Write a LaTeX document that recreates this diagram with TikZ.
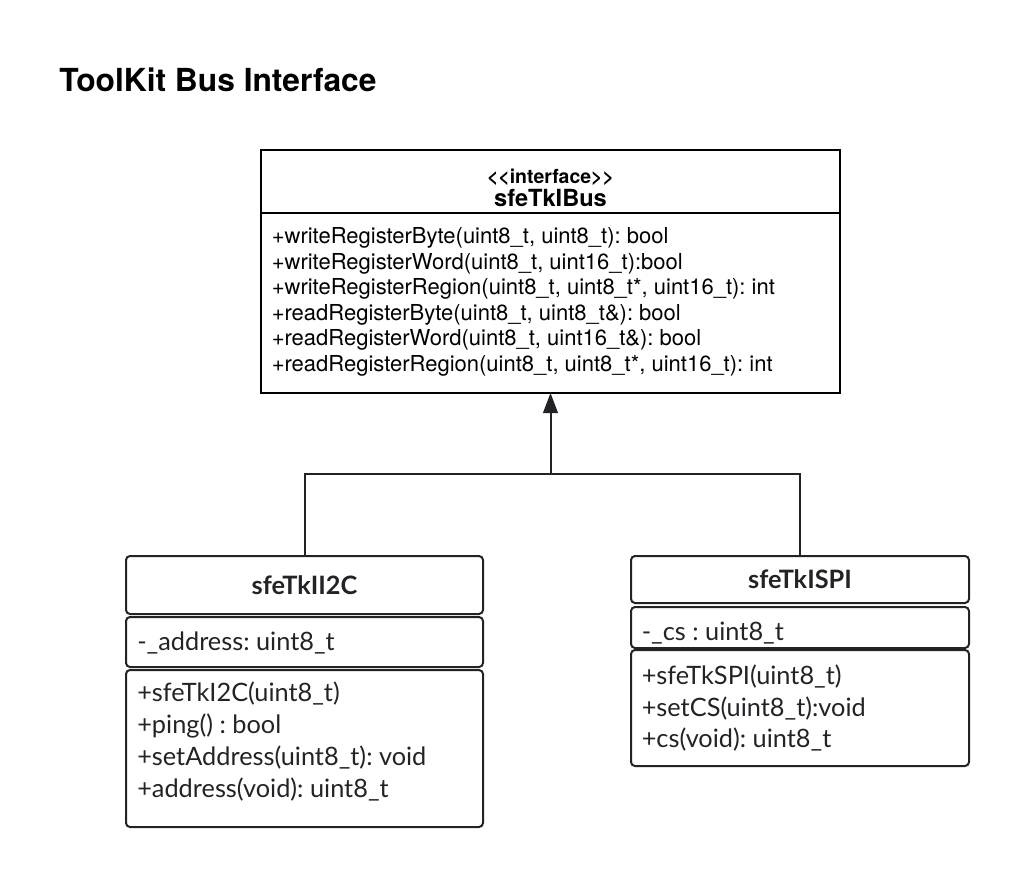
\documentclass[tikz,border=0pt]{standalone}
\usepackage{fontspec}
\setmainfont{TeX Gyre Heros}
\newfontfamily\latofont{Lato}
\usetikzlibrary{positioning,calc,arrows.meta}
\definecolor{ink}{HTML}{222326}
\frenchspacing

\begin{document}
\begin{tikzpicture}[
x=0.75pt, y=-0.75pt,
ifbox/.style={
  draw=black,
  line width=1.5pt,
  minimum width=434.25pt,
  inner sep=0pt,
  outer sep=0pt
  },
classbox/.style={
  draw=ink,
  line width=1.5pt,
  rounded corners=3pt,
  inner sep=0pt,
  outer sep=0pt,
  text=ink,
  font=\latofont\bfseries\fontsize{19}{22}\selectfont
  },
i2cbox/.style={classbox, minimum width=267.75pt},
spibox/.style={classbox, minimum width=253.5pt},
optext/.style={
  anchor=base west,
  inner sep=0pt,
  font=\fontsize{16.5}{19}\selectfont
  },
member/.style={
  anchor=base west,
  inner sep=0pt,
  text=ink,
  font=\latofont\fontsize{19}{22}\selectfont
  },
link/.style={draw=ink, line width=1.5pt},
>={Triangle[length=15pt,width=11pt]}
]
\useasboundingbox (0,0) rectangle (1018,878);

\node[anchor=base west, inner sep=0pt, font=\bfseries\fontsize{23.8}{28}\selectfont] (title) at (59,91) {ToolKit Bus Interface};

% interface
\node[ifbox, minimum height=47.25pt] (busHead) at (550.5,181.5) {};
\node[anchor=base, inner sep=0pt, font=\bfseries\fontsize{14.6}{17}\selectfont] (stereo) at ($(busHead.north)+(0,33)$) {<{}<interface>{}>};
\node[anchor=base, inner sep=0pt, font=\bfseries\fontsize{17.7}{21}\selectfont] (busName) at ($(busHead.north)+(0,56)$) {sfeTkIBus};
\node[ifbox, minimum height=135pt, below=0pt of busHead] (busOps) {};
\foreach \op [count=\i] in {
  {+writeRegisterByte(uint8\_t, uint8\_t): bool},
  {+writeRegisterWord(uint8\_t, uint16\_t):bool},
  {+writeRegisterRegion(uint8\_t, uint8\_t*, uint16\_t): int},
  {+readRegisterByte(uint8\_t, uint8\_t\&): bool},
  {+readRegisterWord(uint8\_t, uint16\_t\&): bool},
  {+readRegisterRegion(uint8\_t, uint8\_t*, uint16\_t): int}}
  \node[optext] (busop\i) at ($(busOps.north west)+(10.5,{30.5+(\i-1)*25.6})$) {\op};

% I2C
\node[i2cbox, minimum height=43.5pt] (i2cHead) at (304.5,585) {sfeTkII2C};
\node[i2cbox, minimum height=37.5pt, below=2.25pt of i2cHead] (i2cVars) {};
\node[member] (i2cvar) at ($(i2cVars.north west)+(11,33)$) {-\_address: uint8\_t};
\node[i2cbox, minimum height=117.75pt, below=2.25pt of i2cVars] (i2cOps) {};
\foreach \op [count=\i] in {
  {+sfeTkI2C(uint8\_t)},
  {+ping() : bool},
  {+setAddress(uint8\_t): void},
  {+address(void): uint8\_t}}
  \node[member] (i2cop\i) at ($(i2cOps.north west)+(11,{31.5+(\i-1)*32})$) {\op};

% SPI
\node[spibox, minimum height=35.25pt] (spiHead) at (800,579.5) {sfeTkISPI};
\node[spibox, minimum height=30.75pt, below=3pt of spiHead] (spiVars) {};
\node[member] (spivar) at ($(spiVars.north west)+(10.5,33)$) {-\_cs : uint8\_t};
\node[spibox, minimum height=87pt, below=1.5pt of spiVars] (spiOps) {};
\foreach \op [count=\i] in {
  {+sfeTkSPI(uint8\_t)},
  {+setCS(uint8\_t):void},
  {+cs(void): uint8\_t}}
  \node[member] (spiop\i) at ($(spiOps.north west)+(10.5,{34.5+(\i-1)*31.5})$) {\op};

% realization
\coordinate (fork) at ($(busOps.south)+(0,81)$);
\draw[link] (i2cHead.north) |- (fork) -| (spiHead.north);
\draw[link, ->] (fork) -- (busOps.south);
\end{tikzpicture}
\end{document}
